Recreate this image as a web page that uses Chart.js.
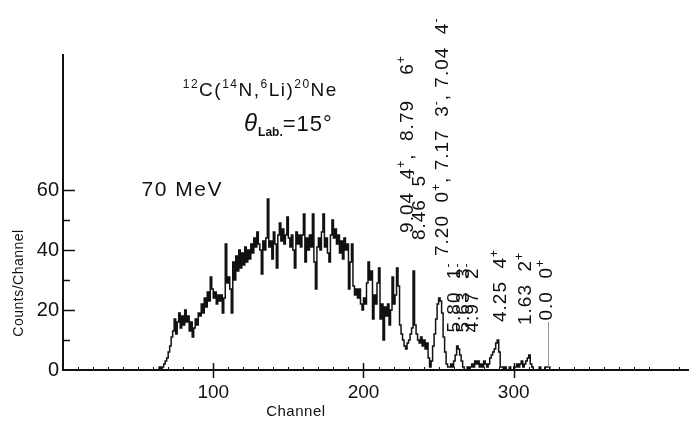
<!DOCTYPE html>
<html>
<head>
<meta charset="utf-8">
<script src="https://cdn.jsdelivr.net/npm/chart.js@4.4.1/dist/chart.umd.min.js"></script>
<style>
  html, body { margin: 0; padding: 0; background: #fff; }
  canvas { display: block; }
</style>
</head>
<body>
<canvas id="spectrum" width="699" height="421"></canvas>
<script>
// 12C(14N,6Li)20Ne, 70 MeV, theta lab 15 deg - counts per channel
var firstChannel = 60;
var counts = [
  0, 0, 0, 0, 0, 1, 0, 1, 2, 3,          // 60
  4, 6, 8, 11, 13, 17, 12, 16, 19, 14,   // 70
  18, 15, 20, 16, 18, 13, 16, 11, 14, 17,// 80
  15, 19, 18, 22, 19, 24, 21, 26, 23, 31,// 90
  27, 24, 26, 22, 25, 23, 25, 19, 24, 42,// 100
  29, 31, 27, 19, 36, 30, 38, 33, 40, 34,// 110
  39, 35, 41, 36, 40, 37, 42, 39, 44, 41,// 120
  46, 42, 40, 32, 43, 40, 44, 57, 41, 43,// 130
  37, 46, 42, 34, 45, 49, 43, 47, 42, 45,// 140
  51, 44, 41, 45, 40, 34, 46, 42, 45, 41,// 150
  45, 52, 36, 44, 40, 45, 41, 52, 36, 27,// 160
  41, 44, 40, 46, 52, 41, 44, 39, 36, 45,// 170
  50, 44, 47, 42, 45, 39, 43, 37, 44, 40,// 180
  42, 27, 36, 42, 28, 25, 27, 24, 27, 22,// 190
  20, 24, 22, 29, 36, 30, 33, 17, 25, 22,// 200
  29, 34, 17, 22, 10, 21, 18, 22, 15, 20,// 210
  31, 22, 25, 34, 28, 15, 12, 10, 8, 7,  // 220
  9, 10, 12, 14, 33, 15, 12, 10, 9, 11,  // 230
  8, 10, 7, 9, 4, 1, 3, 8, 12, 17,       // 240
  22, 24, 23, 19, 11, 6, 2, 1, 1, 2,     // 250
  1, 3, 5, 8, 7, 5, 3, 1, 0, 0,          // 260
  1, 0, 1, 2, 1, 3, 2, 3, 1, 2,          // 270
  1, 3, 2, 1, 2, 4, 5, 6, 7, 9,          // 280
  10, 6, 1, 1, 0, 1, 0, 0, 1, 0,         // 290
  0, 1, 1, 2, 1, 2, 3, 1, 2, 3,          // 300
  4, 5, 2, 1, 0, 0, 0, 0, 1, 0,          // 310
  0, 0, 1, 1, 1, 0, 0, 0, 0, 0, 0        // 320
];

var yTicks = [0, 20, 40, 60];
var yMinorTicks = [10, 30, 50];
var xTicks = [100, 200, 300];

// 20Ne level labels (rotated), foot of each label in channel / counts
var levelText = [
  "9.04  4^{+},  8.79    6^{+}",
  "8.46  5^{-}",
  "7.20  0^{+}, 7.17  3^{-}, 7.04  4^{-}",
  "5.80  1^{-}",
  "5.63  3^{-}",
  "4.97  2^{-}",
  "4.25  4^{+}",
  "1.63  2^{+}",
  "0.0  0^{+}"
];
var levelChannel = [228, 236, 251.5, 259.5, 265.5, 271.5, 290, 307, 321];
var levelCount = [45.7, 43.3, 38, 12.5, 12.5, 12.5, 16, 15, 16.5];
var groundLine = { channel: 323, from: 1, to: 16 };

var FONT = "'Liberation Sans', Arial, sans-serif";

function parseRuns(str) {
  var re = /\^\{([^}]*)\}|_\{([^}]*)\}|[^\^_]+/g, m, out = [];
  while ((m = re.exec(str))) {
    if (m[1] !== undefined) out.push({ t: m[1], k: "sup" });
    else if (m[2] !== undefined) out.push({ t: m[2], k: "sub" });
    else out.push({ t: m[0], k: "" });
  }
  return out;
}

// draws text with ^{} / _{} runs along +x from the origin, returns width
function drawRuns(ctx, str, size, family, style) {
  var x = 0;
  parseRuns(str).forEach(function (r) {
    var s = r.k ? Math.round(size * 0.64) : size;
    var dy = r.k === "sup" ? -size * 0.42 : (r.k === "sub" ? size * 0.28 : 0);
    ctx.font = (style || "") + " " + s + "px " + family;
    ctx.fillText(r.t, x, dy);
    x += ctx.measureText(r.t).width;
  });
  return x;
}

var spectrumText = {
  id: "spectrumText",
  afterDraw: function (chart) {
    var ctx = chart.ctx, xs = chart.scales.x, ys = chart.scales.y, area = chart.chartArea;
    ctx.save();
    ctx.fillStyle = "#111";
    ctx.strokeStyle = "#111";
    ctx.textBaseline = "alphabetic";
    ctx.textAlign = "left";

    // tick marks, drawn inside the frame like the original
    ctx.lineWidth = 1.5;
    ctx.beginPath();
    yTicks.forEach(function (v) {
      if (v === 0) return;
      var py = Math.round(ys.getPixelForValue(v)) + 0.5;
      ctx.moveTo(area.left, py); ctx.lineTo(area.left + 12, py);
    });
    yMinorTicks.forEach(function (v) {
      var py = Math.round(ys.getPixelForValue(v)) + 0.5;
      ctx.moveTo(area.left, py); ctx.lineTo(area.left + 7, py);
    });
    xTicks.forEach(function (v) {
      var px = Math.round(xs.getPixelForValue(v)) + 0.5;
      ctx.moveTo(px, area.bottom - 7); ctx.lineTo(px, area.bottom + 8);
    });
    ctx.stroke();
    ctx.lineWidth = 1;
    ctx.beginPath();
    for (var c = 10; c < xs.max; c += 10) {
      if (c % 100 === 0) continue;
      var px = Math.round(xs.getPixelForValue(c)) + 0.5;
      ctx.moveTo(px, area.bottom - 3); ctx.lineTo(px, area.bottom);
    }
    ctx.stroke();

    // axis titles
    ctx.font = "15px " + FONT;
    ctx.textAlign = "center";
    ctx.letterSpacing = "0.5px";
    ctx.fillText("Channel", xs.getPixelForValue(155), area.bottom + 46);
    ctx.save();
    ctx.font = "14px " + FONT;
    ctx.translate(23, ys.getPixelForValue(29));
    ctx.rotate(-Math.PI / 2);
    ctx.fillText("Counts/Channel", 0, 0);
    ctx.restore();
    ctx.textAlign = "left";

    // reaction and angle
    ctx.save();
    ctx.translate(xs.getPixelForValue(79.7), ys.getPixelForValue(91.3));
    ctx.letterSpacing = "1.5px";
    drawRuns(ctx, "^{12}C(^{14}N,^{6}Li)^{20}Ne", 19, FONT);
    ctx.restore();

    ctx.save();
    ctx.translate(xs.getPixelForValue(120.5), ys.getPixelForValue(79.7));
    ctx.letterSpacing = "0px";
    ctx.font = "italic 24px " + FONT;
    ctx.fillText("\u03b8", 0, 0);
    var w = ctx.measureText("\u03b8").width + 1;
    ctx.font = "bold 12px " + FONT;
    ctx.fillText("Lab.", w, 5);
    w += ctx.measureText("Lab.").width;
    ctx.letterSpacing = "1px";
    ctx.font = "22px " + FONT;
    ctx.fillText("=15\u00b0", w, 0);
    ctx.restore();

    ctx.letterSpacing = "1.5px";
    ctx.font = "21px " + FONT;
    ctx.fillText("70 MeV", xs.getPixelForValue(52.3), ys.getPixelForValue(58));

    // level labels
    ctx.letterSpacing = "1px";
    levelText.forEach(function (t, i) {
      ctx.save();
      ctx.translate(xs.getPixelForValue(levelChannel[i]) + 7, ys.getPixelForValue(levelCount[i]));
      ctx.rotate(-Math.PI / 2);
      drawRuns(ctx, t, 19, FONT);
      ctx.restore();
    });
    ctx.letterSpacing = "0px";

    ctx.strokeStyle = "#999";
    ctx.lineWidth = 1;
    ctx.beginPath();
    var gx = Math.round(xs.getPixelForValue(groundLine.channel)) + 0.5;
    ctx.moveTo(gx, ys.getPixelForValue(groundLine.from));
    ctx.lineTo(gx, ys.getPixelForValue(groundLine.to));
    ctx.stroke();
    ctx.restore();
  }
};

var points = counts.map(function (v, i) { return { x: firstChannel + i, y: v }; });

new Chart(document.getElementById("spectrum"), {
  type: "line",
  data: {
    datasets: [{
      data: points,
      stepped: "after",
      borderColor: "#111",
      borderWidth: 1.5,
      pointRadius: 0,
      fill: false
    }]
  },
  options: {
    responsive: false,
    animation: false,
    layout: { padding: { top: 55, right: 0, left: 0, bottom: 0 } },
    plugins: { legend: { display: false }, tooltip: { enabled: false } },
    scales: {
      x: {
        type: "linear",
        min: 0,
        max: 416,
        afterFit: function (s) { s.height = 51; },
        grid: { display: false, drawTicks: false },
        border: { display: true, color: "#111", width: 2 },
        ticks: {
          stepSize: 100,
          autoSkip: false,
          maxRotation: 0,
          padding: 11,
          color: "#111",
          font: { family: FONT, size: 19 },
          callback: function (v) { return xTicks.indexOf(v) >= 0 ? String(v) : ""; }
        }
      },
      y: {
        min: 0,
        max: 105,
        afterFit: function (s) { s.width = 63; },
        grid: { display: false, drawTicks: false },
        border: { display: true, color: "#111", width: 2 },
        ticks: {
          stepSize: 20,
          padding: 4,
          color: "#111",
          font: { family: FONT, size: 20 },
          callback: function (v) { return yTicks.indexOf(v) >= 0 ? String(v) : ""; }
        }
      }
    }
  },
  plugins: [spectrumText]
});
</script>
</body>
</html>
